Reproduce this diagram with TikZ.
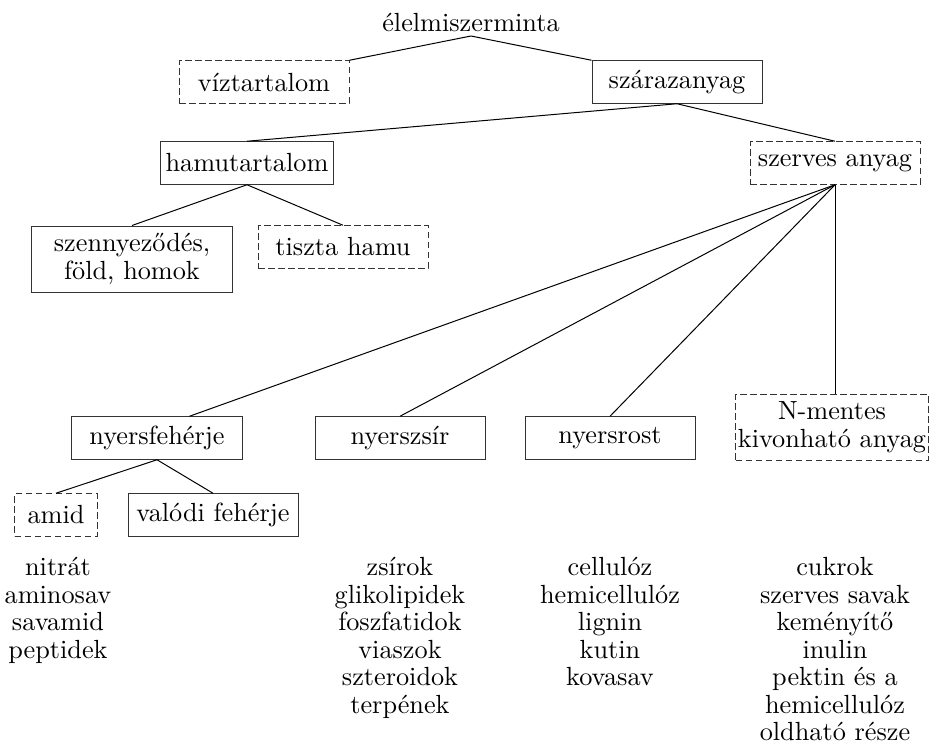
\documentclass[tikz,border=0pt]{standalone}
\usepackage{fontspec}
\usepackage{tikz}
\tikzset{
  box/.style={draw=black!80, thin, minimum width=68pt, minimum height=17pt, inner sep=2pt, align=center},
  dbox/.style={box, dash pattern=on 2.6pt off 1.4pt},
  list/.style={anchor=north, inner sep=0pt, align=center}
}

\begin{document}
\begin{tikzpicture}[-, x=0.4pt, y=-0.4pt, thin, font=\fontsize{10.5}{11}\selectfont]
\useasboundingbox (0,0) rectangle (932,746);
%
\node (root) [anchor=south, inner sep=1.6pt] at (471,36) {élelmiszerminta};
\node (viz) [dbox] at (264,82) {víztartalom};
\node (szaraz) [box] at (677,82) {szárazanyag};
\node (hamu) [box] at (247,163) {hamutartalom};
\node (szerves) [dbox] at (835,163) {szerves anyag};
\node (szenny) [box, minimum width=80pt, minimum height=26.4pt] at (132,259) {szennyeződés,\\föld, homok};
\node (tiszta) [dbox] at (343,247) {tiszta hamu};
%
\node (feherje) [box] at (157,438) {nyersfehérje};
\node (zsir) [box] at (400,438) {nyerszsír};
\node (rost) [box] at (610,438) {nyersrost};
\node (nmentes) [dbox, minimum width=77pt, minimum height=26.4pt, inner xsep=0.6pt] at (832,427) {N-mentes\\kivonható anyag};
\node (amid) [dbox, minimum width=33pt] at (56,515) {amid};
\node (valodi) [box] at (213,515) {valódi fehérje};
%
\node (amidlist) [list] at (58,557) {nitrát\\aminosav\\savamid\\peptidek};
\node (zsirlist) [list] at (400,557) {zsírok\\glikolipidek\\foszfatidok\\viaszok\\szteroidok\\terpének};
\node (rostlist) [list] at (610,557) {cellulóz\\hemicellulóz\\lignin\\kutin\\kovasav};
\node (nlist) [list] at (835,557) {cukrok\\szerves savak\\keményítő\\inulin\\pektin és a\\hemicellulóz\\oldható része};
%
\path (root.south) edge (viz.north east);
\path (root.south) edge (szaraz.north west);
\path (szaraz.south) edge (hamu.north);
\path (szaraz.south) edge (szerves.north);
\path (hamu.south) edge (szenny.north);
\path (hamu.south) edge (tiszta.north);
\path (szerves.south) edge ([xshift=13pt]feherje.north);
\path (szerves.south) edge (zsir.north);
\path (szerves.south) edge (rost.north);
\path (szerves.south) edge (szerves.south |- nmentes.north);
\path (feherje.south) edge (amid.north);
\path (feherje.south) edge (valodi.north);
\end{tikzpicture}
\end{document}
